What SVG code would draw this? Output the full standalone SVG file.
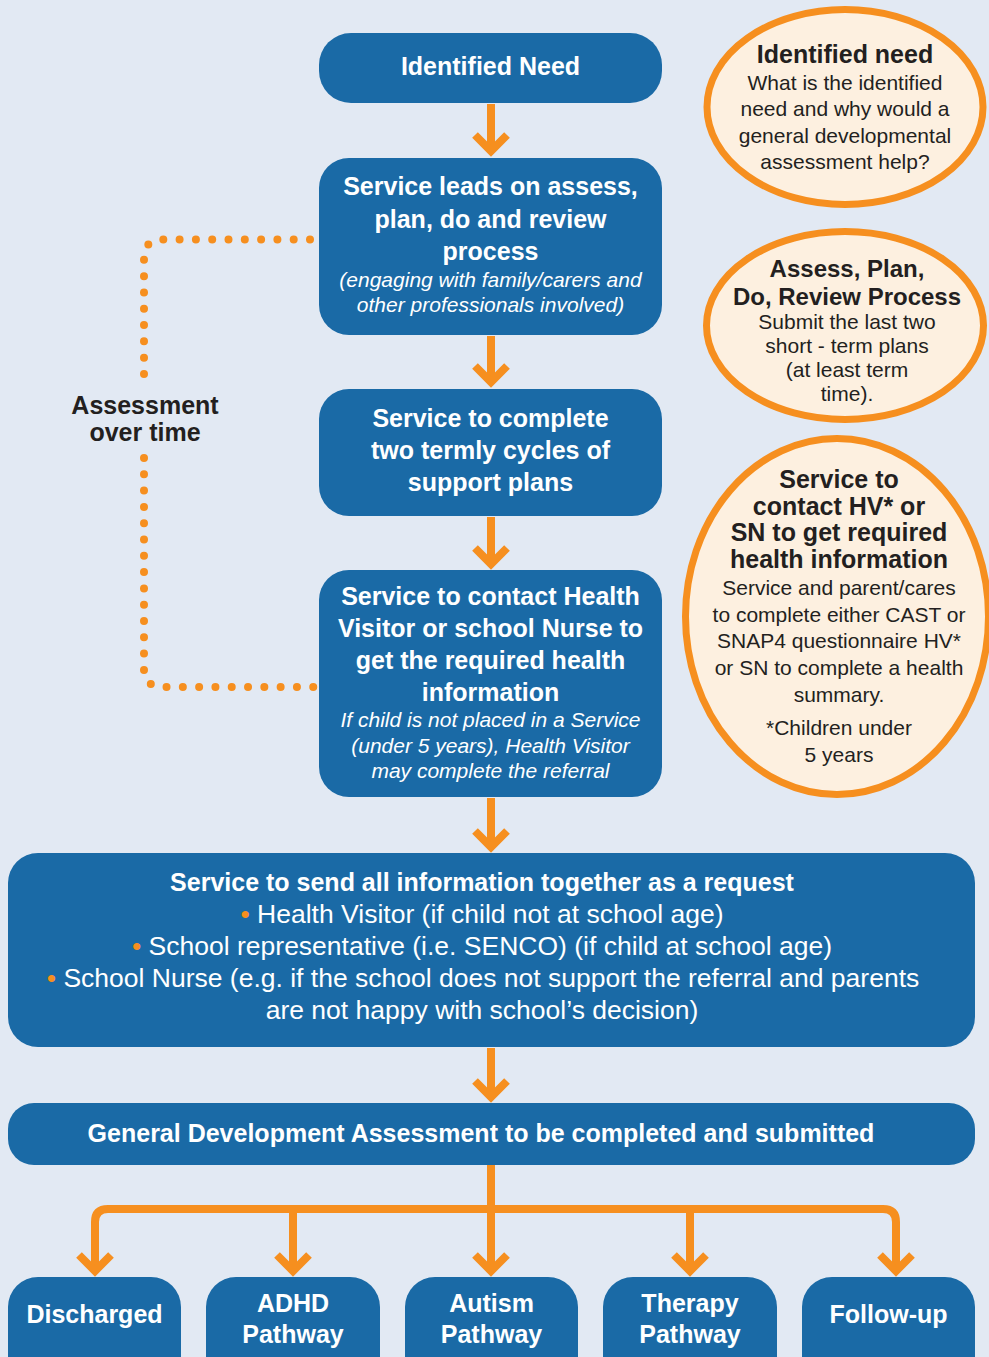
<svg xmlns="http://www.w3.org/2000/svg" width="989" height="1357" viewBox="0 0 989 1357">
<style>
.bg{fill:#e2e9f3}
.box{fill:#1a6aa6}
.ell{fill:#fdf0e0;stroke:#f68f1f;stroke-width:7}
.ln{fill:none;stroke:#f68f1f;stroke-width:8}
.dot{fill:none;stroke:#f68f1f;stroke-width:8;stroke-linecap:round;stroke-dasharray:0 16.3}
.wb{font-family:"Liberation Sans",Arial,sans-serif;font-weight:bold;font-size:25px;fill:#ffffff;text-anchor:middle}
.wi{font-family:"Liberation Sans",Arial,sans-serif;font-style:italic;font-size:21px;fill:#ffffff;text-anchor:middle}
.wr{font-family:"Liberation Sans",Arial,sans-serif;font-size:26.5px;fill:#ffffff;text-anchor:middle}
.db{font-family:"Liberation Sans",Arial,sans-serif;font-weight:bold;font-size:25px;fill:#231f20;text-anchor:middle}
.dr{font-family:"Liberation Sans",Arial,sans-serif;font-size:21px;fill:#231f20;text-anchor:middle}
.bul{fill:#f68f1f}
</style>
<defs>
<marker id="chev" markerUnits="userSpaceOnUse" viewBox="-30 -30 60 60" markerWidth="60" markerHeight="60" refX="0" refY="0" orient="auto">
<polyline points="-16,-16 0,0 -16,16" fill="none" stroke="#f68f1f" stroke-width="8"/>
</marker>
</defs>
<rect class="bg" x="0" y="0" width="989" height="1357"/>

<g id="connectors">
<path class="ln" d="M491 104 V151" marker-end="url(#chev)"/>
<path class="ln" d="M491 336 V382" marker-end="url(#chev)"/>
<path class="ln" d="M491 517 V564" marker-end="url(#chev)"/>
<path class="ln" d="M491 798 V847" marker-end="url(#chev)"/>
<path class="ln" d="M491 1048 V1097" marker-end="url(#chev)"/>
<path class="ln" d="M491 1165 V1271" marker-end="url(#chev)"/>
<path class="ln" d="M95 1271 V1222 Q95 1209 108 1209 H883 Q896 1209 896 1222 V1271" marker-end="url(#chev)"/>
<path class="ln" d="M95 1240 V1271" marker-end="url(#chev)"/>
<path class="ln" d="M293 1209 V1271" marker-end="url(#chev)"/>
<path class="ln" d="M690 1209 V1271" marker-end="url(#chev)"/>
<path class="dot" d="M310 239.5 H160 A16 16 0 0 0 144 255.5 V375"/>
<path class="dot" d="M144 458 V671 A16 16 0 0 0 160 687 H318"/>
</g>

<g id="identified-need">
<rect class="box" x="319" y="33" width="343" height="70" rx="32"/>
<text class="wb" x="490.5" y="75">Identified Need</text>
</g>

<g id="service-leads">
<rect class="box" x="319" y="158" width="343" height="177" rx="30"/>
<text class="wb" x="490.5" y="195">Service leads on assess,</text>
<text class="wb" x="490.5" y="228">plan, do and review</text>
<text class="wb" x="490.5" y="260">process</text>
<text class="wi" x="490.5" y="287">(engaging with family/carers and</text>
<text class="wi" x="490.5" y="312">other professionals involved)</text>
</g>

<g id="two-termly">
<rect class="box" x="319" y="389" width="343" height="127" rx="30"/>
<text class="wb" x="490.5" y="427">Service to complete</text>
<text class="wb" x="490.5" y="459">two termly cycles of</text>
<text class="wb" x="490.5" y="491">support plans</text>
</g>

<g id="contact-health">
<rect class="box" x="319" y="570" width="343" height="227" rx="30"/>
<text class="wb" x="490.5" y="605">Service to contact Health</text>
<text class="wb" x="490.5" y="637">Visitor or school Nurse to</text>
<text class="wb" x="490.5" y="669">get the required health</text>
<text class="wb" x="490.5" y="701">information</text>
<text class="wi" x="490.5" y="727">If child is not placed in a Service</text>
<text class="wi" x="490.5" y="753">(under 5 years), Health Visitor</text>
<text class="wi" x="490.5" y="778">may complete the referral</text>
</g>

<g id="send-request">
<rect class="box" x="8" y="853" width="967" height="194" rx="30"/>
<text class="wb" x="482" y="891">Service to send all information together as a request</text>
<text class="wr" x="482" y="923"><tspan class="bul">•</tspan> Health Visitor (if child not at school age)</text>
<text class="wr" x="482" y="955"><tspan class="bul">•</tspan> School representative (i.e. SENCO) (if child at school age)</text>
<text class="wr" x="483" y="987"><tspan class="bul">•</tspan> School Nurse (e.g. if the school does not support the referral and parents</text>
<text class="wr" x="482" y="1019">are not happy with school’s decision)</text>
</g>

<g id="gda">
<rect class="box" x="8" y="1103" width="967" height="62" rx="26"/>
<text class="wb" x="481" y="1142">General Development Assessment to be completed and submitted</text>
</g>

<g id="discharged">
<rect class="box" x="8" y="1277" width="173" height="110" rx="30"/>
<text class="wb" x="94.5" y="1323">Discharged</text>
</g>
<g id="adhd">
<rect class="box" x="206" y="1277" width="174" height="110" rx="30"/>
<text class="wb" x="293" y="1312">ADHD</text>
<text class="wb" x="293" y="1343">Pathway</text>
</g>
<g id="autism">
<rect class="box" x="405" y="1277" width="173" height="110" rx="30"/>
<text class="wb" x="491.5" y="1312">Autism</text>
<text class="wb" x="491.5" y="1343">Pathway</text>
</g>
<g id="therapy">
<rect class="box" x="603" y="1277" width="174" height="110" rx="30"/>
<text class="wb" x="690" y="1312">Therapy</text>
<text class="wb" x="690" y="1343">Pathway</text>
</g>
<g id="follow-up">
<rect class="box" x="802" y="1277" width="173" height="110" rx="30"/>
<text class="wb" x="888.5" y="1323">Follow-up</text>
</g>

<g id="assessment-over-time">
<text class="db" x="145" y="414">Assessment</text>
<text class="db" x="145" y="441">over time</text>
</g>

<g id="note-identified-need">
<ellipse class="ell" cx="845" cy="107" rx="138" ry="97.5"/>
<text class="db" x="845" y="63">Identified need</text>
<text class="dr" x="845" y="90">What is the identified</text>
<text class="dr" x="845" y="116">need and why would a</text>
<text class="dr" x="845" y="143">general developmental</text>
<text class="dr" x="845" y="169">assessment help?</text>
</g>

<g id="note-apdr">
<ellipse class="ell" cx="845" cy="325.5" rx="138.5" ry="94"/>
<text class="db" x="847" y="277" style="font-size:24px">Assess, Plan,</text>
<text class="db" x="847" y="305" style="font-size:24px">Do, Review Process</text>
<text class="dr" x="847" y="329">Submit the last two</text>
<text class="dr" x="847" y="353">short - term plans</text>
<text class="dr" x="847" y="377">(at least term</text>
<text class="dr" x="847" y="401">time).</text>
</g>

<g id="note-contact-hv">
<ellipse class="ell" cx="837" cy="616.5" rx="151.5" ry="178"/>
<text class="db" x="839" y="488">Service to</text>
<text class="db" x="839" y="515">contact HV* or</text>
<text class="db" x="839" y="541">SN to get required</text>
<text class="db" x="839" y="568">health information</text>
<text class="dr" x="839" y="595">Service and parent/cares</text>
<text class="dr" x="839" y="622">to complete either CAST or</text>
<text class="dr" x="839" y="648">SNAP4 questionnaire HV*</text>
<text class="dr" x="839" y="675">or SN to complete a health</text>
<text class="dr" x="839" y="702">summary.</text>
<text class="dr" x="839" y="735">*Children under</text>
<text class="dr" x="839" y="762">5 years</text>
</g>
</svg>
